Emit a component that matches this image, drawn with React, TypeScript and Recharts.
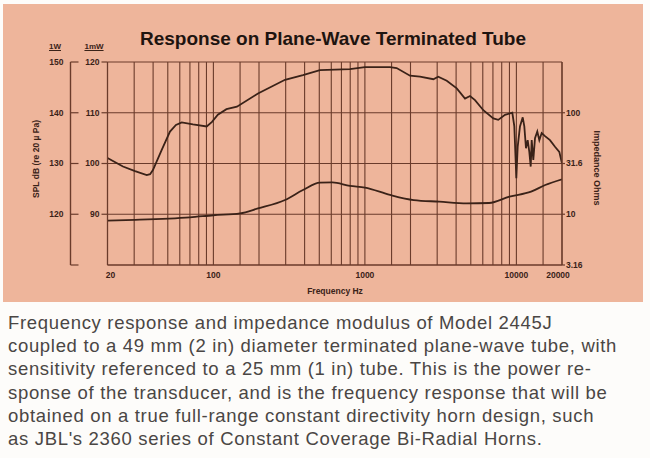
import React from 'react';
import { LineChart, Line, XAxis, YAxis, CartesianGrid } from 'recharts';

// Frequency response, SPL re 1 mW (dB)
const responseFreqHz = [20, 25.3, 30.4, 36.3, 38.2, 39.9, 45.6, 51.7, 56.6, 61.8, 73.3, 90.3, 97.9, 107, 122, 143, 197, 297, 390, 505, 797, 1000, 1465, 1620, 1985, 2310, 2830, 3050, 3470, 4040, 4580, 4940, 5330, 6050, 7040, 7590, 8410, 9400, 9690, 9990, 10200, 10560, 11010, 11280, 11570, 11870, 12170, 12430, 12620, 12930, 13270, 13740, 14170, 14690, 15450, 16660, 17980, 19200, 20000];
const responseDb = [101.1, 99.4, 98.5, 97.7, 97.9, 98.7, 102.7, 106.3, 107.6, 108.1, 107.7, 107.3, 108.2, 109.6, 110.7, 111.2, 113.8, 116.5, 117.4, 118.4, 118.6, 119.0, 119.0, 118.8, 117.3, 117.1, 116.6, 117.1, 116.3, 114.8, 112.8, 113.3, 112.5, 110.5, 108.9, 108.6, 109.6, 110.0, 107.3, 97.1, 103.3, 107.3, 109.1, 107.3, 103.0, 104.6, 102.3, 99.4, 104.6, 100.7, 105.0, 106.3, 104.6, 106.0, 105.4, 104.6, 103.3, 102.3, 100.0];

// Impedance modulus (ohms)
const impedanceFreqHz = [20, 30.4, 70, 100, 150, 197, 297, 390, 505, 610, 797, 1000, 1465, 2100, 3100, 4700, 6600, 9000, 12500, 15500, 20000];
const impedanceOhms = [8.64, 8.8, 9.33, 9.77, 10.2, 11.4, 13.8, 17.3, 20.5, 20.6, 19.0, 18.3, 15.5, 13.8, 13.3, 12.8, 12.9, 14.9, 16.7, 19.4, 22.1];

// Axes
const gridFreqsHz = [20, 30, 40, 50, 60, 70, 80, 90, 100, 150, 200, 300, 400, 500, 600, 700, 800, 900, 1000, 1500, 2000, 3000, 4000, 5000, 6000, 7000, 8000, 9000, 10000, 15000, 20000];
const freqLabelsHz = [20, 100, 1000, 10000, 20000];
const spl1mWTicks = [80, 90, 100, 110, 120];
const spl1WTicks = [110, 120, 130, 140, 150];
const impedanceTicks = [3.16, 10, 31.6, 100];
const impedanceTickLabels = ['3.16', '10', '31.6', '100'];

const captionLines = [
  'Frequency response and impedance modulus of Model 2445J',
  'coupled to a 49 mm (2 in) diameter terminated plane-wave tube, with',
  'sensitivity referenced to a 25 mm (1 in) tube. This is the power re-',
  'sponse of the transducer, and is the frequency response that will be',
  'obtained on a true full-range constant directivity horn design, such',
  "as JBL's 2360 series of Constant Coverage Bi-Radial Horns.",
];

const responseData = responseFreqHz.map((f, i) => ({ f, db: responseDb[i] }));
const impedanceData = impedanceFreqHz.map((f, i) => ({ f, ohm: impedanceOhms[i] }));

const INK = '#3a2218';
const GRID = '#6a3b2b';
const PEACH = '#eeb59b';
const FONT = '"Liberation Sans", Arial, Helvetica, sans-serif';

const tickText = { fontFamily: FONT, fontSize: 8.5, fontWeight: 700, fill: INK } as const;

const InnerTick = (props: any) => {
  const { x, y, payload } = props;
  if (payload.value === 80) return <g />;
  return (
    <g>
      <line x1={x - 6} x2={x} y1={y} y2={y} stroke={GRID} strokeWidth={1.2} />
      <text x={x - 8} y={y} dy="0.35em" textAnchor="end" {...tickText}>{payload.value}</text>
    </g>
  );
};

const OuterTick = (props: any) => {
  const { x, y, payload } = props;
  return (
    <g>
      <line x1={x} x2={x + 8} y1={y} y2={y} stroke={GRID} strokeWidth={1.2} />
      {payload.value !== 110 && (
        <text x={x - 7} y={y} dy="0.35em" textAnchor="end" {...tickText}>{payload.value}</text>
      )}
    </g>
  );
};

const RightTick = (props: any) => {
  const { x, y, payload } = props;
  const idx = impedanceTicks.indexOf(payload.value);
  return (
    <g>
      <line x1={x} x2={x + 3} y1={y} y2={y} stroke={GRID} strokeWidth={1.2} />
      <text x={x + 4} y={y} dy="0.35em" textAnchor="start" {...tickText}>{idx >= 0 ? impedanceTickLabels[idx] : ''}</text>
    </g>
  );
};

const FreqTick = (props: any) => {
  const { x, y, payload } = props;
  if (!freqLabelsHz.includes(payload.value)) return <g />;
  const dx = payload.value === 20 ? 3 : payload.value === 20000 ? -4 : 0;
  return (
    <text x={x + dx} y={y + 10} dy="0.35em" textAnchor="middle" {...tickText}>{payload.value}</text>
  );
};

const abs = (style: React.CSSProperties): React.CSSProperties => ({ position: 'absolute', ...style });

export default function App() {
  return (
    <div style={abs({ left: 0, top: 0, width: 650, height: 458, background: '#fdfcfa', overflow: 'hidden' })}>
      <div style={abs({ left: 3, top: 4, width: 640, height: 298, background: PEACH })} />
      <div style={abs({ left: 0, top: 0 })}>
        <LineChart width={650} height={300} margin={{ top: 62, right: 48, bottom: 10, left: 50.5 }}>
          <CartesianGrid
            xAxisId="freq"
            yAxisId="mw"
            stroke={GRID}
            strokeWidth={1.1}
            fill="none"
          />
          <XAxis
            xAxisId="freq"
            dataKey="f"
            type="number"
            scale="log"
            domain={[20, 20000]}
            allowDataOverflow
            ticks={gridFreqsHz}
            interval={0}
            height={25}
            tickSize={0}
            tickMargin={0}
            tickLine={false}
            axisLine={{ stroke: GRID, strokeWidth: 1.2 }}
            tick={<FreqTick />}
          />
          <YAxis
            yAxisId="mw"
            orientation="left"
            type="number"
            domain={[80, 120]}
            allowDataOverflow
            ticks={spl1mWTicks}
            interval={0}
            width={37}
            tickSize={0}
            tickMargin={0}
            tickLine={false}
            axisLine={{ stroke: GRID, strokeWidth: 1.2 }}
            tick={<InnerTick />}
          />
          <YAxis
            yAxisId="w"
            orientation="left"
            type="number"
            domain={[110, 150]}
            allowDataOverflow
            ticks={spl1WTicks}
            interval={0}
            width={20}
            tickSize={0}
            tickMargin={0}
            tickLine={false}
            axisLine={{ stroke: GRID, strokeWidth: 1.4 }}
            tick={<OuterTick />}
          />
          <YAxis
            yAxisId="ohm"
            orientation="right"
            type="number"
            scale="log"
            domain={[3.16, 316.2]}
            allowDataOverflow
            ticks={impedanceTicks}
            interval={0}
            width={40}
            tickSize={0}
            tickMargin={0}
            tickLine={false}
            axisLine={{ stroke: GRID, strokeWidth: 1.2 }}
            tick={<RightTick />}
          />
          <Line
            xAxisId="freq"
            yAxisId="mw"
            data={responseData}
            dataKey="db"
            type="linear"
            stroke={INK}
            strokeWidth={1.8}
            dot={false}
            activeDot={false}
            isAnimationActive={false}
          />
          <Line
            xAxisId="freq"
            yAxisId="ohm"
            data={impedanceData}
            dataKey="ohm"
            type="monotone"
            stroke={INK}
            strokeWidth={1.8}
            dot={false}
            activeDot={false}
            isAnimationActive={false}
          />
        </LineChart>
      </div>

      <div style={abs({ left: 0, width: 666, top: 28.5, textAlign: 'center', fontFamily: FONT, fontWeight: 700, fontSize: 19, lineHeight: '19px', color: '#1e1410', whiteSpace: 'nowrap' })}>
        Response on Plane-Wave Terminated Tube
      </div>
      <div style={abs({ left: 40, width: 30, top: 42, textAlign: 'center', fontFamily: FONT, fontWeight: 700, fontSize: 8, lineHeight: '10px', color: INK, textDecoration: 'underline' })}>1W</div>
      <div style={abs({ left: 79, width: 30, top: 42, textAlign: 'center', fontFamily: FONT, fontWeight: 700, fontSize: 8, lineHeight: '10px', color: INK, textDecoration: 'underline' })}>1mW</div>
      <div style={abs({ left: 36 - 60, width: 120, top: 159 - 6, height: 12, textAlign: 'center', fontFamily: FONT, fontWeight: 700, fontSize: 8.5, lineHeight: '12px', color: INK, transform: 'rotate(-90deg)', whiteSpace: 'nowrap' })}>
        SPL dB (re 20 µ Pa)
      </div>
      <div style={abs({ left: 597 - 60, width: 120, top: 168 - 6, height: 12, textAlign: 'center', fontFamily: FONT, fontWeight: 700, fontSize: 9, lineHeight: '12px', color: INK, transform: 'rotate(90deg)', whiteSpace: 'nowrap' })}>
        Impedance Ohms
      </div>
      <div style={abs({ left: 235, width: 200, top: 285, textAlign: 'center', fontFamily: FONT, fontWeight: 700, fontSize: 8.5, lineHeight: '12px', color: INK })}>
        Frequency Hz
      </div>

      <div style={abs({ left: 8, top: 311, width: 640, fontFamily: FONT, fontSize: 18.5, letterSpacing: 0.68, lineHeight: '23.2px', color: '#4a4644', whiteSpace: 'nowrap' })}>
        {captionLines.map((l, i) => (
          <div key={i}>{l}</div>
        ))}
      </div>
    </div>
  );
}
